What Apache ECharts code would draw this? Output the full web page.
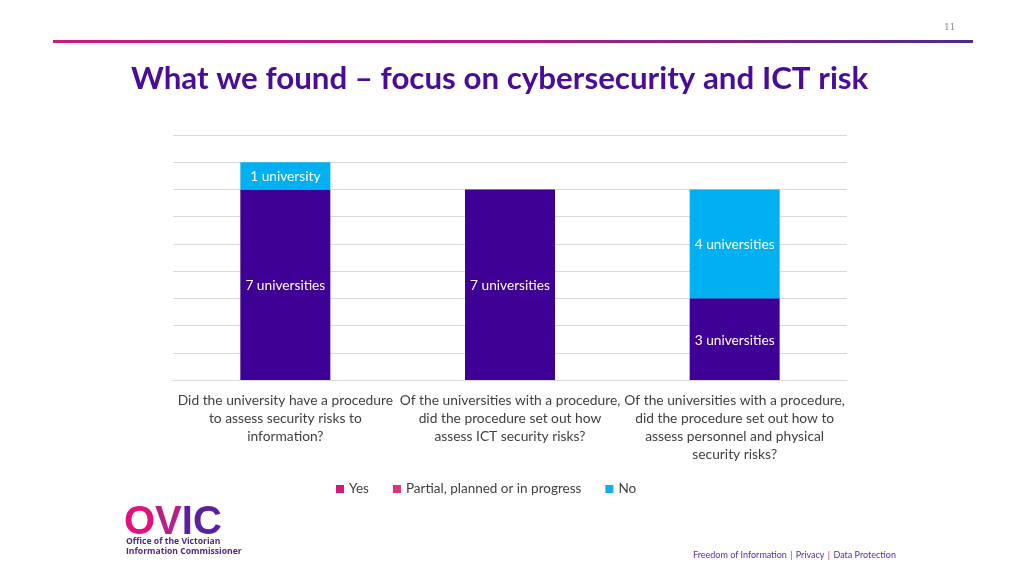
<!DOCTYPE html>
<html>
<head>
<meta charset="utf-8">
<style>html,body{margin:0;padding:0;background:#fff;}#c{width:1024px;height:576px;}</style>
<script src="https://cdn.jsdelivr.net/npm/echarts@6/dist/echarts.min.js"></script>
</head>
<body>
<div id="c"></div>
<script>
const categories = [
  'Did the university have a procedure\nto assess security risks to\ninformation?',
  'Of the universities with a procedure,\ndid the procedure set out how\nassess ICT security risks?',
  'Of the universities with a procedure,\ndid the procedure set out how to\nassess personnel and physical\nsecurity risks?'
];
const yesValues = [7, 7, 3];
const partialValues = [0, 0, 0];
const noValues = [1, 0, 4];
const yTicks = [0, 1, 2, 3, 4, 5, 6, 7, 8, 9];

const FONT = 'Lato, "Open Sans", sans-serif';
const chart = echarts.init(document.getElementById('c'), null, {renderer: 'canvas'});
function lbl(p) {
  const v = p.value;
  if (!v) return '';
  return v === 1 ? '1 university' : v + ' universities';
}
chart.setOption({
  animation: false,
  textStyle: {fontFamily: FONT},
  grid: {left: 173, right: 177, top: 135, bottom: 196},
  legend: {
    bottom: 75, left: 331,
    icon: 'rect', itemWidth: 8, itemHeight: 8, itemGap: 24,
    textStyle: {fontSize: 13.5, color: '#404040', fontFamily: FONT},
    data: [
      {name: 'Yes', itemStyle: {color: '#d6177a'}},
      {name: 'Partial, planned or in progress', itemStyle: {color: '#e0317f'}},
      {name: 'No', itemStyle: {color: '#14aef0'}}
    ]
  },
  xAxis: {
    type: 'category', data: categories,
    axisLine: {lineStyle: {color: '#d9d9d9'}},
    axisTick: {show: false},
    axisLabel: {fontSize: 13.8, color: '#404040', lineHeight: 18, margin: 12, interval: 0, fontFamily: FONT}
  },
  yAxis: {
    type: 'value', min: yTicks[0], max: yTicks[yTicks.length - 1], interval: 1,
    axisLabel: {show: false}, axisLine: {show: false}, axisTick: {show: false},
    splitLine: {lineStyle: {color: '#d9d9d9'}}
  },
  series: [
    {name: 'Yes', type: 'bar', stack: 's', data: yesValues, barWidth: 90,
     itemStyle: {color: '#3f0096'},
     label: {show: true, position: 'inside', color: '#fff', fontSize: 13.7, fontFamily: FONT, formatter: lbl, offset: [0, 1]}},
    {name: 'Partial, planned or in progress', type: 'bar', stack: 's', data: partialValues, barWidth: 90,
     itemStyle: {color: '#e0317f'},
     label: {show: true, position: 'inside', color: '#fff', fontSize: 13.7, fontFamily: FONT, formatter: lbl, offset: [0, 1]}},
    {name: 'No', type: 'bar', stack: 's', data: noValues, barWidth: 90,
     itemStyle: {color: '#00b0f0'},
     label: {show: true, position: 'inside', color: '#fff', fontSize: 13.7, fontFamily: FONT, formatter: lbl, offset: [0, 1]}}
  ],
  graphic: [
    {type: 'text', left: 944, top: 23, style: {text: '11', fontSize: 9, fill: '#8c8c8c', fontFamily: '"DejaVu Serif", serif'}},
    {type: 'rect', shape: {x: 53, y: 40, width: 920, height: 3},
     style: {fill: new echarts.graphic.LinearGradient(0, 0, 1, 0, [
       {offset: 0, color: '#cc1a7c'}, {offset: 0.5, color: '#b0207f'}, {offset: 1, color: '#4d2a88'}])}},
    {type: 'text', left: 131, top: 63, style: {text: 'What we found \u2013 focus on cybersecurity and ICT risk',
      fontSize: 31.3, fontWeight: 'bold', fill: '#4a0d9a', fontFamily: FONT}},
    {type: 'text', left: 124, top: 503, style: {
      text: '{a|O}{b|V}{c|IC}',
      rich: {
        a: {fontSize: 40, fontWeight: 900, fill: '#e2127d', fontFamily: '"Liberation Sans", sans-serif'},
        b: {fontSize: 40, fontWeight: 900, fill: '#b5208a', fontFamily: '"Liberation Sans", sans-serif'},
        c: {fontSize: 40, fontWeight: 900, fill: '#5b1fa0', fontFamily: '"Liberation Sans", sans-serif'}
      }}},
    {type: 'text', left: 126, top: 536, style: {text: 'Office of the Victorian\nInformation Commissioner',
      fontSize: 8.6, lineHeight: 10.5, fontWeight: 'bold', fill: '#4b2a85', fontFamily: '"Open Sans", sans-serif'}},
    {type: 'text', left: 693, top: 549, style: {
      text: '{p|Freedom of Information} {m||} {p|Privacy} {m||} {p|Data Protection}',
      rich: {
        p: {fontSize: 9, fill: '#5a2e9e', fontFamily: FONT},
        m: {fontSize: 9, fill: '#d6177a', fontFamily: FONT}
      }}}
  ]
});
</script>
</body>
</html>
